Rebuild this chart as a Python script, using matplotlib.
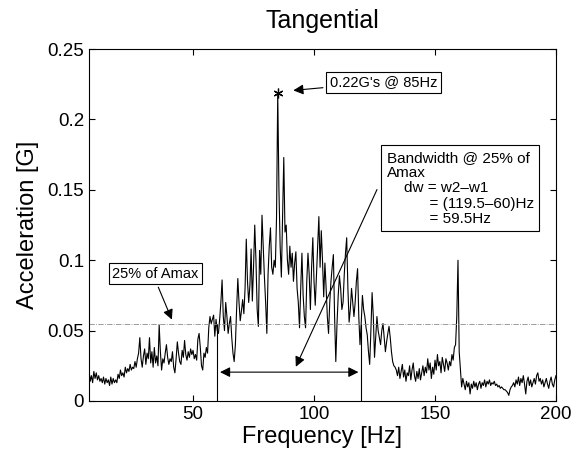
import numpy as np
import matplotlib
matplotlib.use("Agg")
import matplotlib.pyplot as plt

plt.rcParams['font.family'] = ['Liberation Sans', 'DejaVu Sans']

# frequency grid [Hz] and acceleration [G], 0.5 Hz steps
freq = np.arange(6.0, 200.01, 0.5)
accel = [
    # 6.0 - 15.5
    0.020, 0.011, 0.022, 0.014, 0.018, 0.013, 0.021, 0.016, 0.020, 0.015,
    0.018, 0.014, 0.016, 0.013, 0.017, 0.012, 0.016, 0.013, 0.015, 0.011,
    # 16.0 - 25.5
    0.017, 0.012, 0.016, 0.013, 0.015, 0.013, 0.019, 0.016, 0.022, 0.018,
    0.020, 0.017, 0.024, 0.020, 0.023, 0.021, 0.026, 0.022, 0.024, 0.023,
    # 26.0 - 35.5
    0.028, 0.024, 0.030, 0.034, 0.045, 0.030, 0.024, 0.032, 0.037, 0.026,
    0.034, 0.030, 0.045, 0.027, 0.035, 0.024, 0.038, 0.027, 0.032, 0.025,
    # 36.0 - 45.5
    0.054, 0.035, 0.022, 0.030, 0.027, 0.034, 0.040, 0.031, 0.026, 0.030,
    0.028, 0.035, 0.024, 0.020, 0.030, 0.042, 0.034, 0.028, 0.026, 0.036,
    # 46.0 - 55.5
    0.031, 0.043, 0.033, 0.029, 0.035, 0.031, 0.037, 0.033, 0.036, 0.030,
    0.033, 0.029, 0.044, 0.048, 0.038, 0.025, 0.022, 0.034, 0.031, 0.038,
    # 56.0 - 65.5
    0.034, 0.052, 0.060, 0.055, 0.058, 0.061, 0.046, 0.058, 0.050, 0.048,
    0.058, 0.070, 0.086, 0.060, 0.050, 0.070, 0.060, 0.048, 0.055, 0.060,
    # 66.0 - 75.5
    0.045, 0.034, 0.028, 0.040, 0.065, 0.087, 0.070, 0.057, 0.064, 0.072,
    0.062, 0.080, 0.115, 0.085, 0.070, 0.082, 0.108, 0.071, 0.095, 0.125,
    # 76.0 - 85.5
    0.100, 0.065, 0.053, 0.107, 0.090, 0.132, 0.110, 0.088, 0.070, 0.048,
    0.090, 0.110, 0.123, 0.095, 0.090, 0.100, 0.095, 0.130, 0.219, 0.150,
    # 86.0 - 95.5
    0.110, 0.088, 0.130, 0.173, 0.120, 0.125, 0.100, 0.090, 0.110, 0.095,
    0.105, 0.085, 0.098, 0.106, 0.080, 0.070, 0.052, 0.080, 0.105, 0.075,
    # 96.0 - 105.5
    0.060, 0.052, 0.085, 0.105, 0.090, 0.065, 0.095, 0.116, 0.085, 0.068,
    0.090, 0.110, 0.131, 0.095, 0.121, 0.100, 0.074, 0.098, 0.080, 0.060,
    # 106.0 - 115.5
    0.048, 0.070, 0.085, 0.095, 0.104, 0.060, 0.028, 0.055, 0.075, 0.089,
    0.080, 0.065, 0.070, 0.090, 0.105, 0.116, 0.080, 0.056, 0.065, 0.080,
    # 116.0 - 125.5
    0.070, 0.060, 0.070, 0.085, 0.094, 0.060, 0.040, 0.055, 0.075, 0.065,
    0.060, 0.052, 0.047, 0.035, 0.026, 0.050, 0.077, 0.060, 0.031, 0.045,
    # 126.0 - 135.5
    0.060, 0.050, 0.045, 0.040, 0.050, 0.055, 0.045, 0.035, 0.042, 0.048,
    0.053, 0.045, 0.035, 0.028, 0.025, 0.024, 0.022, 0.018, 0.024, 0.016,
    # 136.0 - 145.5
    0.021, 0.026, 0.017, 0.022, 0.014, 0.020, 0.018, 0.025, 0.015, 0.022,
    0.027, 0.018, 0.014, 0.021, 0.016, 0.023, 0.015, 0.020, 0.025, 0.018,
    # 146.0 - 155.5
    0.024, 0.020, 0.030, 0.022, 0.027, 0.016, 0.024, 0.019, 0.029, 0.022,
    0.033, 0.025, 0.028, 0.020, 0.031, 0.026, 0.021, 0.030, 0.027, 0.022,
    # 156.0 - 165.5
    0.028, 0.025, 0.033, 0.029, 0.038, 0.040, 0.060, 0.100, 0.035, 0.022,
    0.010, 0.016, 0.012, 0.008, 0.014, 0.010, 0.013, 0.005, 0.012, 0.009,
    # 166.0 - 175.5
    0.014, 0.010, 0.013, 0.008, 0.012, 0.014, 0.009, 0.013, 0.011, 0.015,
    0.010, 0.014, 0.012, 0.015, 0.011, 0.013, 0.012, 0.014, 0.011, 0.012,
    # 176.0 - 185.5
    0.010, 0.011, 0.009, 0.010, 0.009, 0.008, 0.008, 0.007, 0.006, 0.004,
    0.008, 0.010, 0.011, 0.013, 0.010, 0.015, 0.012, 0.017, 0.011, 0.016,
    # 186.0 - 195.5
    0.013, 0.018, 0.012, 0.005, 0.014, 0.017, 0.011, 0.015, 0.010, 0.013,
    0.016, 0.012, 0.018, 0.020, 0.014, 0.016, 0.012, 0.015, 0.010, 0.013,
    # 196.0 - 200.0
    0.016, 0.012, 0.009, 0.014, 0.017, 0.012, 0.010, 0.015, 0.018,
]

peak_f, peak_a = 85.0, 0.219
amax_25 = 0.055          # 25% of Amax
w1, w2 = 60.0, 119.5     # band edges [Hz]

xticks = [50, 100, 150, 200]
yticks = [0, 0.05, 0.1, 0.15, 0.2, 0.25]
ytick_labels = ['0', '0.05', '0.1', '0.15', '0.2', '0.25']

fig = plt.figure(figsize=(5.72, 4.59), dpi=100)
ax = fig.add_axes([0.1556, 0.1264, 0.8164, 0.7666])

ax.plot(freq, accel, color='black', lw=0.8)
# matlab style asterisk at the peak
ax.plot(peak_f, peak_a, marker=(6, 2, 0), color='black', ms=7, mew=0.9)
ax.axhline(amax_25, color='0.55', lw=0.6, ls='-.')
ax.vlines([w1, w2], 0, amax_25, color='black', lw=0.8)

ax.set_xlim(7, 200)
ax.set_ylim(0, 0.25)
ax.set_xticks(xticks)
ax.set_yticks(yticks)
ax.set_yticklabels(ytick_labels)
ax.tick_params(direction='in', top=True, right=True, labelsize=13.5, length=4)
for s in ax.spines.values():
    s.set_linewidth(0.8)

ax.set_title('Tangential', fontsize=18, pad=15)
ax.set_xlabel('Frequency [Hz]', fontsize=17, labelpad=2)
ax.set_ylabel('Acceleration [G]', fontsize=17, labelpad=6)

head = dict(arrowstyle='-|>', color='black', lw=0.8, mutation_scale=15)
box = dict(boxstyle='square,pad=0.25', fc='white', ec='black', lw=0.8)

# bandwidth double arrow
ax.annotate('', xy=(w1, 0.0205), xytext=(w2, 0.0205),
            arrowprops=dict(arrowstyle='<|-|>', color='black', lw=0.8, mutation_scale=15))

# peak callout
ax.annotate("0.22G's @ 85Hz", xy=(90.3, 0.2205), xytext=(106.5, 0.2265),
            fontsize=10.5, va='center', ha='left', bbox=box, arrowprops=head)

# 25% of Amax callout
ax.annotate('25% of Amax', xy=(41.7, 0.056), xytext=(34.5, 0.0905),
            fontsize=10.5, va='center', ha='center', bbox=box,
            arrowprops=dict(head, relpos=(0.5, 0.0)))

# bandwidth callout
ax.annotate('', xy=(92.0, 0.0225), xytext=(126.5, 0.152), arrowprops=head)
ax.text(130.0, 0.151,
        'Bandwidth @ 25% of\nAmax\n    dw = w2\u2013w1\n          = (119.5\u201360)Hz\n          = 59.5Hz',
        fontsize=11, va='center', ha='left', linespacing=1.12,
        bbox=dict(boxstyle='square,pad=0.35', fc='white', ec='black', lw=0.8))

fig.savefig('out.png', dpi=100)
